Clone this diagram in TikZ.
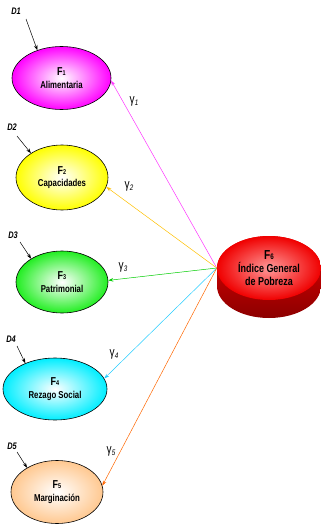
\documentclass[tikz,border=0pt]{standalone}
\usepackage{fontspec}
\setmainfont{Liberation Sans}[FakeStretch=0.78]
\usetikzlibrary{shapes.geometric,arrows.meta}
\definecolor{cmag}{HTML}{FF00FF}
\definecolor{cyel}{HTML}{FFFF00}
\definecolor{cgrn}{HTML}{22EE22}
\definecolor{ccyn}{HTML}{00EEFF}
\definecolor{cpch}{HTML}{FFC890}
\definecolor{cred}{HTML}{F00000}
\definecolor{amag}{HTML}{FF33FF}
\definecolor{ayel}{HTML}{FFC000}
\definecolor{agrn}{HTML}{00CC00}
\definecolor{acyn}{HTML}{22CCFF}
\definecolor{aorg}{HTML}{FF6600}
\tikzset{
  factor/.style={ellipse, draw=black, line width=0.6pt, align=center,
     font=\bfseries\fontsize{10}{11.5}\selectfont, inner sep=0pt},
  gam/.style={font=\fontsize{13}{13}\selectfont},
  dlab/.style={font=\bfseries\itshape\fontsize{9.5}{9.5}\selectfont},
  path/.style={line width=0.5pt, -{Stealth[length=5pt,width=3.5pt]}},
  dist/.style={line width=0.5pt, black, -{Stealth[length=5pt,width=3.5pt]}}
}
\newcommand{\Fn}[1]{{\fontsize{11.5}{12}\selectfont F}{\fontsize{7}{7}\selectfont #1}}
\newcommand{\gm}[1]{γ\raisebox{-2pt}{\fontsize{8}{8}\selectfont\itshape #1}}
\begin{document}
\begin{tikzpicture}[x=1pt,y=-1pt]
\useasboundingbox (0,0) rectangle (321,525);
% factors
\node[factor, minimum width=99pt, minimum height=63pt, inner color=white, outer color=cmag] (f1) at (61.5,78) {\Fn{1}\\[1pt]Alimentaria};
\node[factor, minimum width=92pt, minimum height=65pt, inner color=white, outer color=cyel] (f2) at (62,177.5) {\Fn{2}\\[1pt]Capacidades};
\node[factor, minimum width=92pt, minimum height=62pt, inner color=white, outer color=cgrn] (f3) at (62,282) {\Fn{3}\\[1pt]Patrimonial};
\node[factor, minimum width=104pt, minimum height=62pt, inner color=white, outer color=ccyn] (f4) at (55,389) {\Fn{4}\\[1pt]Rezago Social};
\node[factor, minimum width=92pt, minimum height=63pt, inner color=white, outer color=cpch] (f5) at (57,492) {\Fn{5}\\[1pt]Marginación};
% F6 (3D disc): side, then top face
\shade[top color=red!90!black, bottom color=red!55!black]
  (217,268) -- (217,286) arc[start angle=180, end angle=0, x radius=52, y radius=32]
  -- (321,268) arc[start angle=0, end angle=-180, x radius=52, y radius=32] -- cycle;
\node[ellipse, minimum width=104pt, minimum height=64pt, inner sep=0pt, inner color=red!40!white, outer color=cred, align=center,
      font=\bfseries\fontsize{11.5}{13}\selectfont] (f6) at (269,268) {{\fontsize{13}{13}\selectfont F}{\fontsize{8}{8}\selectfont 6}\\Índice General\\de Pobreza};
% paths
\draw[path, amag] (f6.west) -- (f1.-3);
\draw[path, ayel] (f6.west) -- (f2.-12);
\draw[path, agrn] (f6.west) -- (f3.2);
\draw[path, acyn] (f6.west) -- (f4.12);
\draw[path, aorg] (f6.west) -- (f5.8);
% gamma labels
\node[gam] (g1) at (134,101) {\gm{1}};
\node[gam] (g2) at (129,186) {\gm{2}};
\node[gam] (g3) at (123,267) {\gm{3}};
\node[gam] (g4) at (114,354) {\gm{4}};
\node[gam] (g5) at (111,451) {\gm{5}};
% disturbances
\node[dlab] (d1) at (16,11) {D1};
\node[dlab] (d2) at (12,127) {D2};
\node[dlab] (d3) at (13,235) {D3};
\node[dlab] (d4) at (11,339) {D4};
\node[dlab] (d5) at (12,446) {D5};
\coordinate (s1) at (26,19);
\coordinate (s2) at (17,136);
\coordinate (s3) at (20,242);
\coordinate (s4) at (17,346);
\coordinate (s5) at (17,452);
\draw[dist] (s1) -- (f1.131);
\draw[dist] (s2) -- (f2.142);
\draw[dist] (s3) -- (f3.143);
\draw[dist] (s4) -- (f4.139);
\draw[dist] (s5) -- (f5.141);
\end{tikzpicture}
\end{document}
